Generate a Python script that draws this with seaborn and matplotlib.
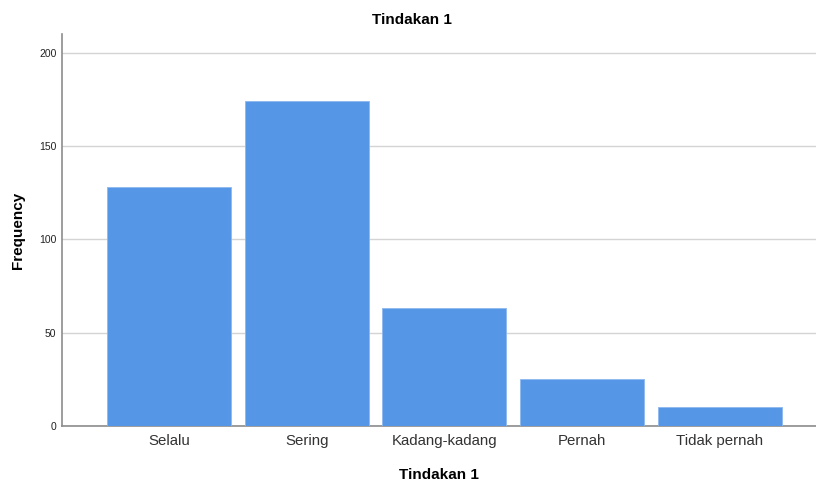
import matplotlib
matplotlib.use("Agg")
import matplotlib.pyplot as plt
import seaborn as sns
import pandas as pd

categories = ["Selalu", "Sering", "Kadang-kadang", "Pernah", "Tidak pernah"]
frequency = [128, 174, 63, 25, 10]
y_ticks = [0, 50, 100, 150, 200]

sns.set_theme(style="white")
plt.rcParams["font.family"] = ["Liberation Sans", "DejaVu Sans"]
plt.rcParams["text.color"] = "black"
plt.rcParams["axes.labelcolor"] = "black"

df = pd.DataFrame({"cat": categories, "freq": frequency})

fig = plt.figure(figsize=(8.16, 4.83), dpi=100)
ax = fig.add_axes([62/816, 57/483, 1 - 62/816, (426-34)/483])

sns.barplot(data=df, x="cat", y="freq", color="#5596E6", saturation=1,
            width=0.9, edgecolor="#8db8ee", linewidth=0.6, ax=ax, zorder=3)

ax.set_xlim(-0.778, 4.70)
ax.set_ylim(0, 210)
ax.set_yticks(y_ticks)
ax.yaxis.grid(True, color="#d4d4d4", linewidth=1.0, zorder=0)
ax.xaxis.grid(False)
ax.set_axisbelow(True)
for s in ["top", "right"]:
    ax.spines[s].set_visible(False)
for s in ["left", "bottom"]:
    ax.spines[s].set_color("#8c8c8c")
    ax.spines[s].set_linewidth(1.2)
ax.tick_params(axis="y", length=0, pad=4, labelsize=7.5, labelcolor="#222222")
ax.tick_params(axis="x", length=0, pad=6, labelsize=10.8, labelcolor="#333333")

ax.set_xlabel("Tindakan 1", fontsize=11, fontweight="bold", labelpad=14, color="black")
ax.set_ylabel("Frequency", fontsize=11, fontweight="bold", labelpad=10, color="black")
fig.text(412/816, 1 - 20/483, "Tindakan 1", ha="center", va="center",
         fontsize=11, fontweight="bold", color="black")

fig.savefig("out.png", dpi=100)
